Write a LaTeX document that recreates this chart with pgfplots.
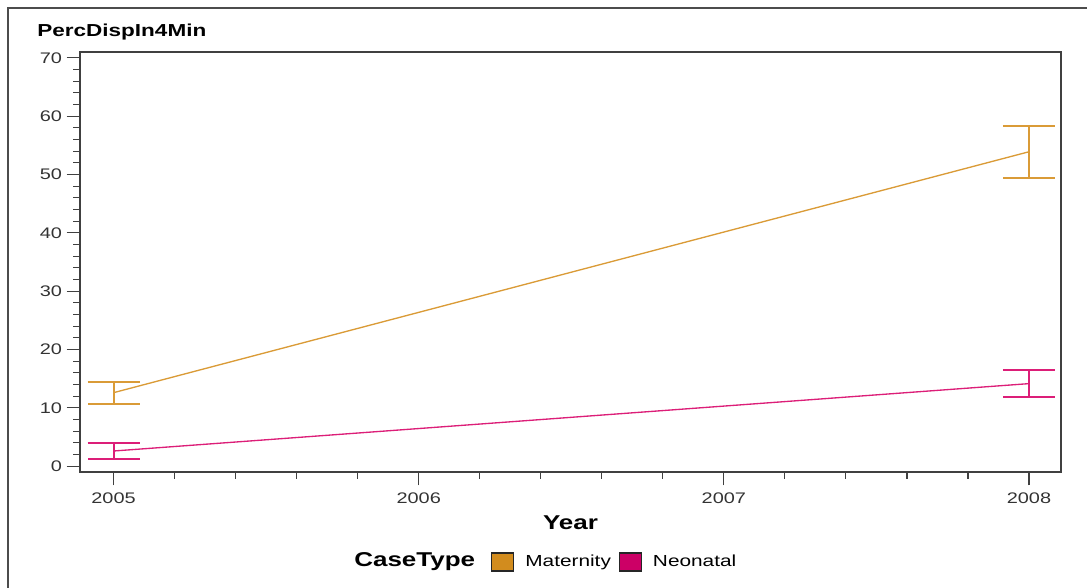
\documentclass[border=0pt]{standalone}
\usepackage{fontspec}
\setmainfont{Liberation Sans}[FakeStretch=1.3]
\usepackage{pgfplots}
\usepackage{pgfplotstable}
\pgfplotsset{compat=1.18}

\definecolor{matline}{RGB}{218,155,55}
\definecolor{matfill}{RGB}{210,140,30}
\definecolor{neoline}{RGB}{220,30,120}
\definecolor{neofill}{RGB}{204,0,102}
\definecolor{axisgray}{RGB}{64,64,64}

% Mean percentage with upper/lower error extents
\pgfplotstableread{
year  y     ep    em
2005  12.6  1.9   1.9
2008  53.9  4.5   4.5
}\maternity
\pgfplotstableread{
year  y     ep    em
2005  2.6   1.35  1.35
2008  14.15 2.35  2.35
}\neonatal

\begin{document}
\begin{tikzpicture}
\useasboundingbox (0pt,0pt) rectangle (815.25pt,-441pt);
\draw[line width=1.1pt, color=black!70] (6pt,-441pt) -- (6pt,-6pt) -- (815.25pt,-6pt);
\node[anchor=base west, inner sep=0pt, font=\bfseries\fontsize{13}{15}\selectfont] at (27.75pt,-27.75pt) {PercDispIn4Min};

\begin{axis}[
  at={(60pt,-354pt)}, anchor=south west,
  scale only axis, width=735.75pt, height=315pt,
  xmin=2004.89, xmax=2008.105, ymin=-1, ymax=71,
  xtick={2005,2006,2007,2008}, ytick={0,10,...,70},
  minor x tick num=4, minor y tick num=4,
  tick align=outside, xtick pos=bottom, ytick pos=left,
  major tick length=10pt, minor tick length=5pt,
  axis line style={axisgray, line width=1.2pt},
  every tick/.style={axisgray, line width=0.9pt},
  /pgf/number format/assume math mode=true,
  /pgf/number format/1000 sep={},
  tick label style={font=\fontsize{11.5}{13}\selectfont, text=black!80},
  xticklabel style={yshift=-2pt},
  xlabel={Year},
  xlabel style={font=\bfseries\fontsize{15}{17}\selectfont, at={(axis description cs:0.5,-0.138)}, anchor=base},
  legend image code/.code={\filldraw[#1, line width=0.8pt] (0pt,-6.75pt) rectangle (16.5pt,6.75pt);},
  legend style={at={(axis description cs:0.419,-0.2143)}, anchor=west, draw=none, fill=none,
    inner sep=0pt, nodes={inner sep=0pt}, font=\fontsize{12}{14}\selectfont,
    legend columns=-1,
    /tikz/every even column/.append style={column sep=6pt},
    /tikz/every odd column/.append style={column sep=8.25pt}},
]
\addplot[matline, line width=1pt, forget plot,
  error bars/.cd, y dir=both, y explicit, error mark=|,
  error bar style={line width=1.5pt, matline},
  error mark options={mark size=19.5pt, line width=1.5pt, matline}]
  table[x=year, y=y, y error plus=ep, y error minus=em] {\maternity};
\addplot[neoline, line width=1pt, forget plot,
  error bars/.cd, y dir=both, y explicit, error mark=|,
  error bar style={line width=1.5pt, neoline},
  error mark options={mark size=19.5pt, line width=1.5pt, neoline}]
  table[x=year, y=y, y error plus=ep, y error minus=em] {\neonatal};
\addlegendimage{fill=matfill, draw=black!85}
\addlegendentry{Maternity}
\addlegendimage{fill=neofill, draw=black!85}
\addlegendentry{Neonatal}
\end{axis}

\node[anchor=base west, inner sep=0pt, font=\bfseries\fontsize{15}{17}\selectfont] at (265.5pt,-424.5pt) {CaseType};
\end{tikzpicture}
\end{document}
